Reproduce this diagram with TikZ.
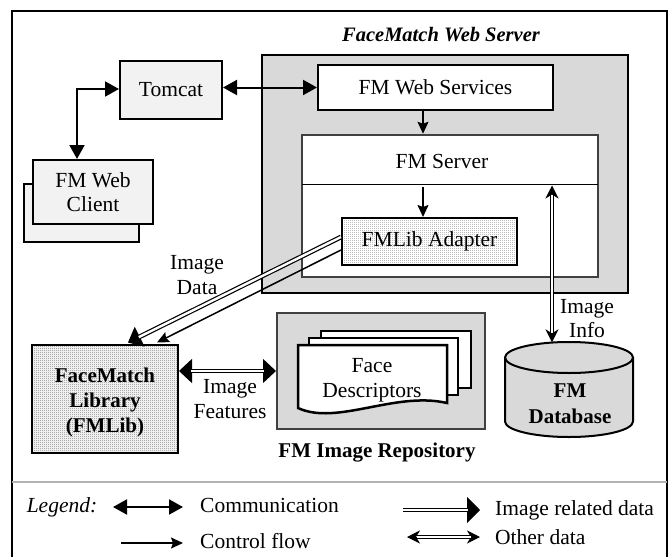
\documentclass[tikz,border=0pt]{standalone}
\usepackage{fontspec}
\setmainfont{Liberation Serif}
\usetikzlibrary{arrows.meta,patterns,calc}

% fine fills for the library boxes
\pgfdeclarepatternformonly{finedots}{\pgfqpoint{0pt}{0pt}}{\pgfqpoint{2pt}{2pt}}{\pgfqpoint{2pt}{2pt}}%
  {\pgfpathrectangle{\pgfqpoint{0pt}{0pt}}{\pgfqpoint{0.9pt}{0.9pt}}\pgfusepath{fill}}
\pgfdeclarepatternformonly{finechecker}{\pgfqpoint{0pt}{0pt}}{\pgfqpoint{2pt}{2pt}}{\pgfqpoint{2pt}{2pt}}%
  {\pgfpathrectangle{\pgfqpoint{0pt}{0pt}}{\pgfqpoint{1pt}{1pt}}%
   \pgfpathrectangle{\pgfqpoint{1pt}{1pt}}{\pgfqpoint{1pt}{1pt}}\pgfusepath{fill}}

\definecolor{boxgray}{HTML}{F2F2F2}
\definecolor{zonegray}{HTML}{D9D9D9}
\definecolor{edgegray}{HTML}{404040}

\tikzset{
  every node/.style={font=\fontsize{21.5}{24.5}\selectfont, inner sep=0pt, align=center},
  box/.style={draw, line width=2pt},
  comm/.style={line width=2pt, {Triangle[length=14pt,width=15pt]}-{Triangle[length=14pt,width=15pt]}},
  ctrl/.style={line width=1.5pt, -{Stealth[length=12pt,width=11pt,inset=2pt]}},
  % double lines: the thin guide line carries the solid tips,
  % the hollow line is drawn over it and stops at the tip bases
  dbl/.style={double, double distance=2.4pt, line width=1.2pt},
  imgtip/.style={line width=1pt, -{Triangle[length=13pt,width=22pt]}},
  imgtips/.style={line width=1pt, {Triangle[length=13pt,width=24pt]}-{Triangle[length=13pt,width=24pt]}},
  othertips/.style={line width=1pt, {Stealth[length=13pt,width=13pt,inset=4pt]}-{Stealth[length=13pt,width=13pt,inset=4pt]}},
}

\begin{document}
\begin{tikzpicture}[x=1pt,y=-1pt]
\useasboundingbox (0,0) rectangle (670,557);
\fill[white] (0,0) rectangle (670,557);

% outer frame and legend separator
\draw[line width=2.5pt] (12,562) -- (12,11) -- (667,11) -- (667,562);
\coordinate (sepleft) at (12,482);
\coordinate (sepright) at (667,482);
\draw[gray!60, line width=1.2pt] (sepleft) -- (sepright);

% web server zone
\node[font=\fontsize{20.5}{24}\selectfont\bfseries\itshape] (title) at (441,35) {FaceMatch Web Server};
\node[draw, line width=2.5pt, fill=zonegray, minimum width=366pt, minimum height=238pt] (websrv) at (445,174) {};
\node[box, fill=white, minimum width=235pt, minimum height=45pt] (fmws) at (435.5,87.5) {FM Web Services};
\node[draw=edgegray, line width=2.5pt, fill=white, minimum width=296pt, minimum height=142pt] (fmsrv) at (450,206) {};
\coordinate (srvsepL) at (302,184);
\coordinate (srvsepR) at (598,184);
\draw[line width=1pt] (srvsepL) -- (srvsepR);
\node (fmsrvtext) at (442,161) {FM Server};
\node[box, preaction={fill=white}, pattern=finedots, pattern color=black!60,
      minimum width=175pt, minimum height=47pt] (adapter) at (429.5,241.5) {};
\node at (adapter) {FMLib Adapter};

% client side
\node[box, fill=boxgray, minimum width=102pt, minimum height=58pt] (tomcat) at (171,90) {Tomcat};
\node[box, fill=boxgray, minimum width=115pt, minimum height=58pt] (clientback) at (81.5,213) {};
\node[box, fill=boxgray, minimum width=120pt, minimum height=64pt] (client) at (93,192) {FM Web\\Client};

% FaceMatch library
\node[box, preaction={fill=white}, pattern=finechecker, pattern color=black!50,
      minimum width=146pt, minimum height=108pt] (lib) at (105,399) {};
\node[font=\fontsize{21}{25}\selectfont\bfseries] at (105,402) {FaceMatch\\Library\\(FMLib)};

% image repository with stacked descriptor documents
\node[draw=edgegray, line width=2pt, fill=zonegray, minimum width=208pt, minimum height=116pt] (repo) at (381,371) {};
\draw[line width=2.5pt, fill=white] (321,331) rectangle (471,388);
\draw[line width=2.5pt, fill=white] (309,338) rectangle (458,395);
\draw[line width=2.5pt, fill=white] (298,345) -- (447,345) -- (447,403)
   .. controls (395,391) and (337,426) .. (298,408) -- cycle;
\node (desc) at (372,380) {Face\\Descriptors};
\node[font=\fontsize{21}{25}\selectfont\bfseries] (repolabel) at (377,453) {FM Image Repository};

% database cylinder
\node[minimum width=128pt, minimum height=95pt] (db) at (569,389.5) {};
\draw[line width=2pt, fill=zonegray] (505,357.5) -- (505,421.5)
   arc[start angle=180, end angle=360, x radius=64pt, y radius=15.5pt]
   -- (633,357.5)
   arc[start angle=0, end angle=180, x radius=64pt, y radius=15.5pt] -- cycle;
\draw[line width=2pt] (505,357.5)
   arc[start angle=180, end angle=360, x radius=64pt, y radius=15.5pt];
\node[font=\fontsize{21}{26}\selectfont\bfseries] (dbtext) at (570,404) {FM\\Database};

% connectors
\coordinate (clientbend) at (77,89);
\draw[comm] (tomcat.west |- clientbend) -- (clientbend) -- (clientbend |- client.north);
\draw[comm] (tomcat.east |- fmws.west) -- (fmws.west);
\draw[ctrl] ([xshift=-12.5pt]fmws.south) -- ([xshift=-12.5pt]fmws.south |- fmsrv.north);
\draw[ctrl] ($([xshift=-6.5pt]adapter.north |- srvsepL)+(0,3)$) -- ([xshift=-6.5pt]adapter.north);

\draw[imgtip] ([yshift=4.5pt]adapter.west) -- ([xshift=23pt,yshift=1.5pt]lib.north);
\draw[dbl, shorten >=12pt] ([yshift=4.5pt]adapter.west) -- ([xshift=23pt,yshift=1.5pt]lib.north);
\draw[ctrl] ([yshift=-8.5pt]adapter.west) -- ([xshift=52pt,yshift=1.5pt]lib.north);

\draw[imgtips] (lib.east |- repo.west) -- (repo.west);
\draw[dbl, shorten <=12pt, shorten >=12pt] (lib.east |- repo.west) -- (repo.west);

\draw[othertips] ([xshift=-17pt,yshift=-0.5pt]db.north) -- ($([xshift=-17pt]db.north |- srvsepR)+(0,1.5)$);
\draw[dbl, shorten <=9.5pt, shorten >=9.5pt] ([xshift=-17pt,yshift=-0.5pt]db.north) -- ($([xshift=-17pt]db.north |- srvsepR)+(0,1.5)$);

% connector labels
\node (imgdatalbl) at (197,275) {Image\\Data};
\node (featlbl) at (230,399) {Image\\Features};
\node (infolbl) at (587,318.5) {Image\\Info};

% legend
\node[font=\fontsize{21.5}{24.5}\selectfont\itshape] (legend) at (62,507) {Legend:};
\coordinate (lgA1) at (113,507); \coordinate (lgA2) at (183,507);
\coordinate (lgB1) at (121,543); \coordinate (lgB2) at (183,543);
\coordinate (lgC1) at (403,510); \coordinate (lgC2) at (480,510);
\coordinate (lgD1) at (407,537); \coordinate (lgD2) at (480,537);
\draw[comm] (lgA1) -- (lgA2);
\draw[ctrl] (lgB1) -- (lgB2);
\draw[line width=1pt, -{Triangle[length=13pt,width=26pt]}] (lgC1) -- (lgC2);
\draw[dbl, shorten >=12pt] (lgC1) -- (lgC2);
\draw[othertips] (lgD1) -- (lgD2);
\draw[dbl, shorten <=9.5pt, shorten >=9.5pt] (lgD1) -- (lgD2);
\node[anchor=west] (lgAt) at (200,505) {Communication};
\node[anchor=west] (lgBt) at (200,541) {Control flow};
\node[anchor=west] (lgCt) at (495,510) {Image related data};
\node[anchor=west] (lgDt) at (495,537) {Other data};
\end{tikzpicture}
\end{document}
